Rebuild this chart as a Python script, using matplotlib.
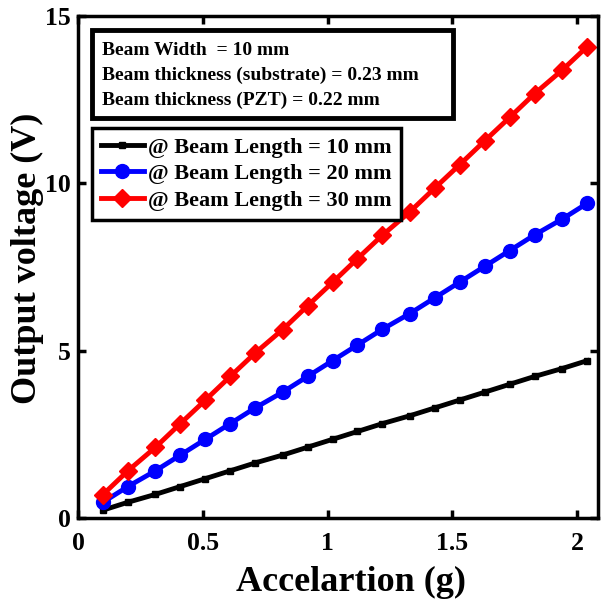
import matplotlib
matplotlib.use("Agg")
import matplotlib.pyplot as plt
from matplotlib.patches import Rectangle

plt.rcParams['font.family'] = ['Liberation Serif', 'DejaVu Serif']
plt.rcParams['font.weight'] = 'bold'

accel_g = [0.10, 0.20, 0.31, 0.41, 0.51, 0.61, 0.71, 0.82, 0.92, 1.02,
           1.12, 1.22, 1.33, 1.43, 1.53, 1.63, 1.73, 1.83, 1.94, 2.04]
v_len10 = [0.235, 0.47, 0.705, 0.94, 1.175, 1.41, 1.645, 1.88, 2.115, 2.35,
           2.585, 2.82, 3.055, 3.29, 3.525, 3.76, 3.995, 4.23, 4.465, 4.70]
v_len20 = [0.47, 0.94, 1.41, 1.88, 2.35, 2.82, 3.29, 3.76, 4.23, 4.70,
           5.17, 5.64, 6.11, 6.58, 7.05, 7.52, 7.99, 8.46, 8.93, 9.40]
v_len30 = [0.70, 1.41, 2.11, 2.82, 3.52, 4.23, 4.93, 5.63, 6.34, 7.04,
           7.75, 8.45, 9.15, 9.86, 10.56, 11.27, 11.97, 12.68, 13.38, 14.08]
labels = ['@ Beam Length = 10 mm', '@ Beam Length = 20 mm', '@ Beam Length = 30 mm']
xticks = [0, 0.5, 1, 1.5, 2]
xticklabels = ['0', '0.5', '1', '1.5', '2']
yticks = [0, 5, 10, 15]
info_lines = ['Beam Width  = 10 mm',
              'Beam thickness (substrate) = 0.23 mm',
              'Beam thickness (PZT) = 0.22 mm']

W, H = 602, 600
AX_L, AX_R, AX_T, AX_B = 78, 598, 16, 518

fig = plt.figure(figsize=(W/100, H/100), dpi=100)
ax = fig.add_axes([AX_L/W, 1-AX_B/H, (AX_R-AX_L)/W, (AX_B-AX_T)/H])


def ax_frac(px, py):
    return (px-AX_L)/(AX_R-AX_L), (AX_B-py)/(AX_B-AX_T)


ax.plot(accel_g, v_len10, color='black', lw=3.5, marker='s', ms=5, label=labels[0])
ax.plot(accel_g, v_len20, color='blue', lw=3.5, marker='o', ms=10, label=labels[1])
ax.plot(accel_g, v_len30, color='red', lw=3.5, marker='D', ms=9, label=labels[2])

ax.set_xlim(0, 2.084)
ax.set_ylim(0, 15)
ax.set_xticks(xticks)
ax.set_xticklabels(xticklabels)
ax.set_yticks(yticks)
ax.tick_params(direction='in', length=6, width=2.5, top=True, right=True,
               labelsize=18.5)
ax.tick_params(axis='x', pad=10)
ax.tick_params(axis='y', pad=5)
for lab in ax.get_xticklabels() + ax.get_yticklabels():
    lab.set_fontweight('bold')
for sp in ax.spines.values():
    sp.set_linewidth(2.5)

ax.set_xlabel('Accelartion (g)', fontsize=26, fontweight='bold')
ax.xaxis.set_label_coords(*ax_frac(351, 566))
ax.set_ylabel('Output voltage (V)', fontsize=26, fontweight='bold')
ax.yaxis.set_label_coords(*ax_frac(44, 258))

# info box
x0, y0 = ax_frac(92, 118)
x1, y1 = ax_frac(453, 30)
ax.add_patch(Rectangle((x0, y0), x1-x0, y1-y0, transform=ax.transAxes,
                       fc='white', ec='black', lw=3.5, zorder=5))
for i, line in enumerate(info_lines):
    tx, ty = ax_frac(102, 55 + 25*i)
    ax.text(tx, ty, line, transform=ax.transAxes, fontsize=14,
            fontweight='bold', va='baseline', ha='left', zorder=6)

lx, ly = ax_frac(92, 128)
leg = ax.legend(loc='upper left', bbox_to_anchor=(lx, ly), fontsize=16,
                frameon=True, fancybox=False, edgecolor='black', framealpha=1,
                handlelength=1.9, handletextpad=0.2, borderpad=0.42,
                labelspacing=0.26, borderaxespad=0)
leg.get_frame().set_linewidth(2.5)
for t in leg.get_texts():
    t.set_fontweight('bold')

fig.savefig('out.png', dpi=100)
